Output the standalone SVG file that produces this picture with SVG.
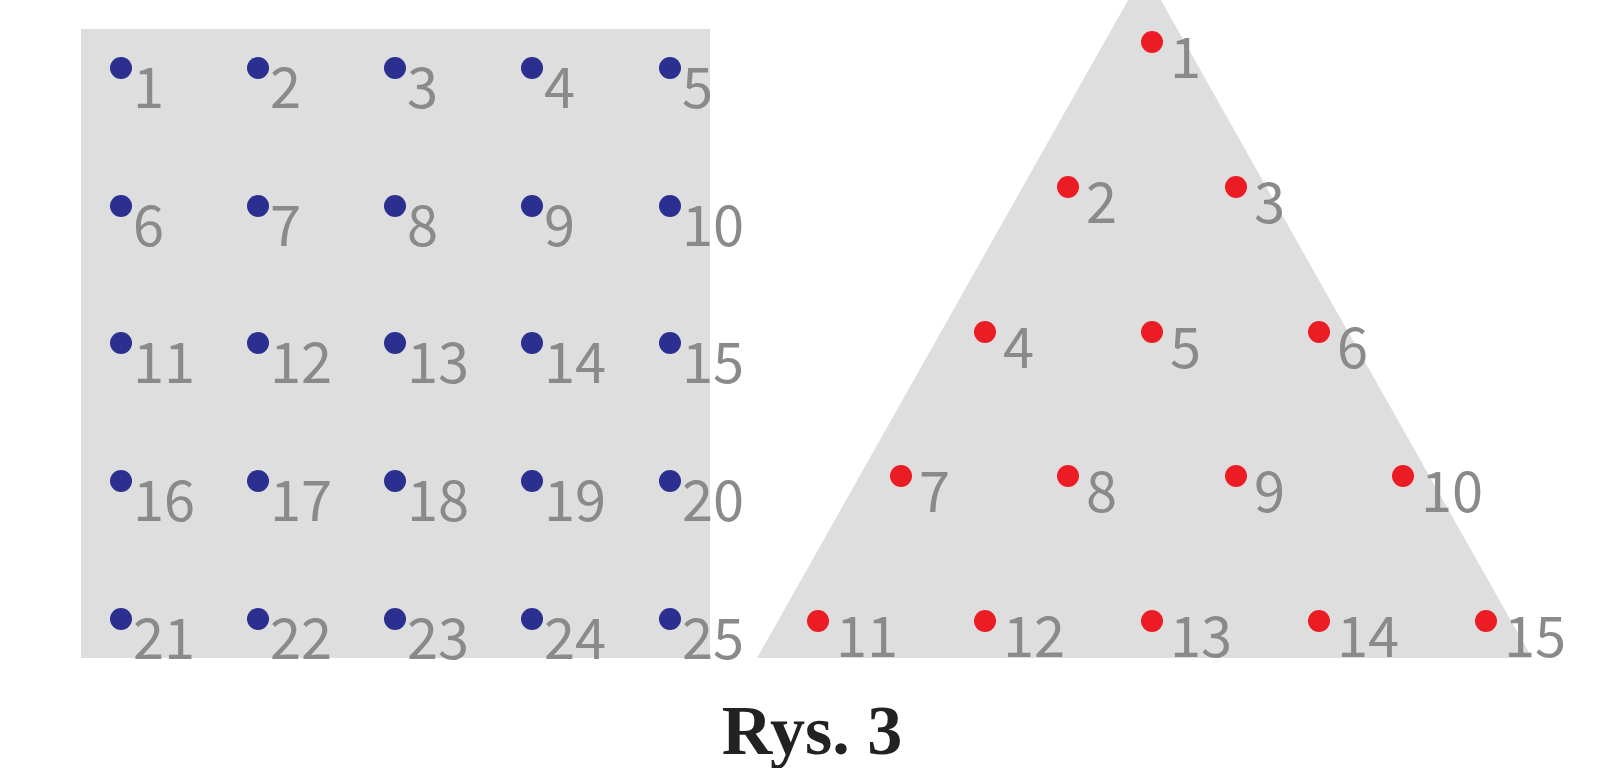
<svg xmlns="http://www.w3.org/2000/svg" width="1600" height="768" viewBox="0 0 1600 768">
<style>
.bg{fill:#dededf}
.b{fill:#2b2f8f}
.r{fill:#ec1c24}
.t{font-family:"Noto Sans CJK JP","Noto Sans","Liberation Sans",sans-serif;font-weight:400;font-size:56px;fill:#8a8a8a}
.cap{font-family:"Liberation Serif",serif;font-weight:bold;font-size:70px;fill:#222}
</style>
<rect width="1600" height="768" fill="#fff"/>
<g id="square">
<rect class="bg" x="81" y="29" width="629" height="629"/>
</g>
<g id="triangle">
<polygon class="bg" points="1144.5,-29 757,658 1532,658"/>
</g>
<g id="blue-points">
<g id="b1"><circle class="b" cx="121" cy="68" r="11"/><text class="t" x="133" y="108">1</text></g>
<g id="b2"><circle class="b" cx="258" cy="68" r="11"/><text class="t" x="270" y="108">2</text></g>
<g id="b3"><circle class="b" cx="395" cy="68" r="11"/><text class="t" x="407" y="108">3</text></g>
<g id="b4"><circle class="b" cx="532" cy="68" r="11"/><text class="t" x="544" y="108">4</text></g>
<g id="b5"><circle class="b" cx="670" cy="68" r="11"/><text class="t" x="682" y="108">5</text></g>
<g id="b6"><circle class="b" cx="121" cy="206" r="11"/><text class="t" x="133" y="246">6</text></g>
<g id="b7"><circle class="b" cx="258" cy="206" r="11"/><text class="t" x="270" y="246">7</text></g>
<g id="b8"><circle class="b" cx="395" cy="206" r="11"/><text class="t" x="407" y="246">8</text></g>
<g id="b9"><circle class="b" cx="532" cy="206" r="11"/><text class="t" x="544" y="246">9</text></g>
<g id="b10"><circle class="b" cx="670" cy="206" r="11"/><text class="t" x="682" y="246">10</text></g>
<g id="b11"><circle class="b" cx="121" cy="343" r="11"/><text class="t" x="133" y="383">11</text></g>
<g id="b12"><circle class="b" cx="258" cy="343" r="11"/><text class="t" x="270" y="383">12</text></g>
<g id="b13"><circle class="b" cx="395" cy="343" r="11"/><text class="t" x="407" y="383">13</text></g>
<g id="b14"><circle class="b" cx="532" cy="343" r="11"/><text class="t" x="544" y="383">14</text></g>
<g id="b15"><circle class="b" cx="670" cy="343" r="11"/><text class="t" x="682" y="383">15</text></g>
<g id="b16"><circle class="b" cx="121" cy="481" r="11"/><text class="t" x="133" y="521">16</text></g>
<g id="b17"><circle class="b" cx="258" cy="481" r="11"/><text class="t" x="270" y="521">17</text></g>
<g id="b18"><circle class="b" cx="395" cy="481" r="11"/><text class="t" x="407" y="521">18</text></g>
<g id="b19"><circle class="b" cx="532" cy="481" r="11"/><text class="t" x="544" y="521">19</text></g>
<g id="b20"><circle class="b" cx="670" cy="481" r="11"/><text class="t" x="682" y="521">20</text></g>
<g id="b21"><circle class="b" cx="121" cy="619" r="11"/><text class="t" x="133" y="659">21</text></g>
<g id="b22"><circle class="b" cx="258" cy="619" r="11"/><text class="t" x="270" y="659">22</text></g>
<g id="b23"><circle class="b" cx="395" cy="619" r="11"/><text class="t" x="407" y="659">23</text></g>
<g id="b24"><circle class="b" cx="532" cy="619" r="11"/><text class="t" x="544" y="659">24</text></g>
<g id="b25"><circle class="b" cx="670" cy="619" r="11"/><text class="t" x="682" y="659">25</text></g>
</g>
<g id="red-points">
<g id="r1"><circle class="r" cx="1152" cy="42" r="11"/><text class="t" x="1170" y="78">1</text></g>
<g id="r2"><circle class="r" cx="1068" cy="187" r="11"/><text class="t" x="1086" y="223">2</text></g>
<g id="r3"><circle class="r" cx="1236" cy="187" r="11"/><text class="t" x="1254" y="223">3</text></g>
<g id="r4"><circle class="r" cx="985" cy="332" r="11"/><text class="t" x="1003" y="368">4</text></g>
<g id="r5"><circle class="r" cx="1152" cy="332" r="11"/><text class="t" x="1170" y="368">5</text></g>
<g id="r6"><circle class="r" cx="1319" cy="332" r="11"/><text class="t" x="1337" y="368">6</text></g>
<g id="r7"><circle class="r" cx="901" cy="476" r="11"/><text class="t" x="919" y="512">7</text></g>
<g id="r8"><circle class="r" cx="1068" cy="476" r="11"/><text class="t" x="1086" y="512">8</text></g>
<g id="r9"><circle class="r" cx="1236" cy="476" r="11"/><text class="t" x="1254" y="512">9</text></g>
<g id="r10"><circle class="r" cx="1403" cy="476" r="11"/><text class="t" x="1421" y="512">10</text></g>
<g id="r11"><circle class="r" cx="818" cy="621" r="11"/><text class="t" x="836" y="657">11</text></g>
<g id="r12"><circle class="r" cx="985" cy="621" r="11"/><text class="t" x="1003" y="657">12</text></g>
<g id="r13"><circle class="r" cx="1152" cy="621" r="11"/><text class="t" x="1170" y="657">13</text></g>
<g id="r14"><circle class="r" cx="1319" cy="621" r="11"/><text class="t" x="1337" y="657">14</text></g>
<g id="r15"><circle class="r" cx="1486" cy="621" r="11"/><text class="t" x="1504" y="657">15</text></g>
</g>
<g id="connectors"></g>
<text class="cap" x="812" y="754" text-anchor="middle">Rys. 3</text>
</svg>
